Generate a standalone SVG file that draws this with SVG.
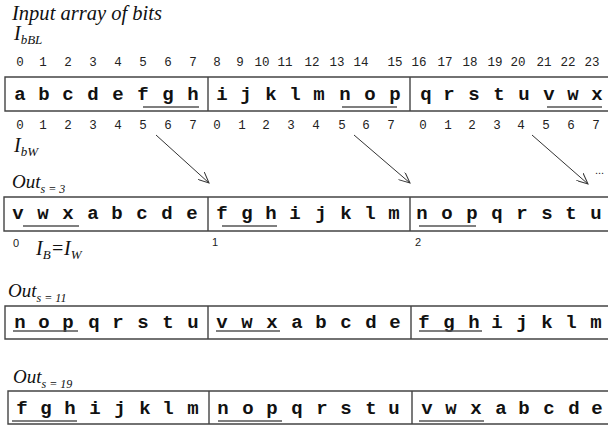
<svg xmlns="http://www.w3.org/2000/svg" width="608" height="429" viewBox="0 0 608 429">
<style>
.lbl{font-family:"Liberation Serif","Times New Roman",serif;font-style:italic;fill:#111}
.ch{font-family:"Liberation Mono","Courier New",monospace;font-weight:bold;font-size:19px;fill:#111;text-anchor:middle}
.idx{font-family:"Liberation Mono","Courier New",monospace;font-size:12.5px;fill:#222;text-anchor:middle}
.sm{font-family:"Liberation Sans",Arial,sans-serif;font-size:11px;fill:#222}
.box{fill:none;stroke:#444;stroke-width:1.4}
.ul{stroke:#555;stroke-width:1.4}
.arr{stroke:#333;stroke-width:1;fill:none;marker-end:url(#ah)}
</style>
<defs>
<marker id="ah" viewBox="0 0 12 10" refX="11" refY="5" markerWidth="12" markerHeight="10" markerUnits="userSpaceOnUse" orient="auto">
<path d="M0,0 L11,5 L0,10" fill="none" stroke="#333" stroke-width="1"/>
</marker>
</defs>

<g id="title">
<text class="lbl" x="12" y="20" font-size="20" textLength="150" lengthAdjust="spacingAndGlyphs">Input array of bits</text>
<text class="lbl" x="14" y="40" font-size="20">I<tspan font-size="13" dy="4">bBL</tspan></text>
</g>

<g id="input-row">
<g class="idx">
<text x="20" y="66">0</text><text x="43" y="66">1</text><text x="68" y="66">2</text><text x="93" y="66">3</text>
<text x="118" y="66">4</text><text x="143" y="66">5</text><text x="168" y="66">6</text><text x="193" y="66">7</text>
<text x="217" y="66">8</text><text x="240" y="66">9</text><text x="262" y="66">10</text><text x="285" y="66">11</text>
<text x="312" y="66">12</text><text x="337" y="66">13</text><text x="361" y="66">14</text><text x="395" y="66">15</text>
<text x="419" y="66">16</text><text x="445" y="66">17</text><text x="470" y="66">18</text><text x="495" y="66">19</text>
<text x="518" y="66">20</text><text x="544" y="66">21</text><text x="568" y="66">22</text><text x="592" y="66">23</text>
</g>
<path class="box" d="M608,77 H5 V111 H608 M208,77 V111 M410,77 V111"/>
<text class="ch" y="100" x="20 44 68 93 118 143 168 193 222 246 271 295 319 345 370 395 426 449 474 499 524 549 573 597">abcdefghijklmnopqrstuvwx</text>
<line class="ul" x1="143" y1="107" x2="199" y2="107"/>
<line class="ul" x1="342" y1="107" x2="397" y2="107"/>
<line class="ul" x1="547" y1="107" x2="602" y2="107"/>
<g class="idx">
<text x="20" y="129">0</text><text x="43" y="129">1</text><text x="68" y="129">2</text><text x="93" y="129">3</text>
<text x="118" y="129">4</text><text x="143" y="129">5</text><text x="168" y="129">6</text><text x="193" y="129">7</text>
<text x="217" y="129">0</text><text x="242" y="129">1</text><text x="266" y="129">2</text><text x="291" y="129">3</text>
<text x="316" y="129">4</text><text x="342" y="129">5</text><text x="366" y="129">6</text><text x="391" y="129">7</text>
<text x="423" y="129">0</text><text x="448" y="129">1</text><text x="472" y="129">2</text><text x="497" y="129">3</text>
<text x="521" y="129">4</text><text x="546" y="129">5</text><text x="571" y="129">6</text><text x="596" y="129">7</text>
</g>
<text class="lbl" x="14" y="152" font-size="20">I<tspan font-size="13" dy="4">bW</tspan></text>
</g>

<g id="connectors">
<line class="arr" x1="156" y1="135" x2="209" y2="183"/>
<line class="arr" x1="354" y1="135" x2="410" y2="183"/>
<line class="arr" x1="532" y1="135" x2="588" y2="184"/>
<text class="sm" x="595" y="174">...</text>
</g>

<g id="out-s3">
<text class="lbl" x="12" y="188" font-size="19">Out<tspan font-size="12" dy="5">s = 3</tspan></text>
<path class="box" d="M608,197 H4 V231 H608 M208,197 V231 M410,197 V231"/>
<text class="ch" y="219" x="18 43 68 93 117 142 167 192 222 247 271 295 321 346 370 394 422 447 472 497 522 547 571 596">vwxabcdefghijklmnopqrstu</text>
<line class="ul" x1="23" y1="226" x2="79" y2="226"/>
<line class="ul" x1="222" y1="226" x2="277" y2="226"/>
<line class="ul" x1="419" y1="226" x2="476" y2="226"/>
<text class="sm" x="13" y="247" font-size="10">0</text>
<text class="lbl" x="36" y="255" font-size="20">I<tspan font-size="13" dy="4">B</tspan><tspan dy="-4">=I</tspan><tspan font-size="13" dy="4">W</tspan></text>
<text class="sm" x="212" y="246">1</text>
<text class="sm" x="415" y="246">2</text>
</g>

<g id="out-s11">
<text class="lbl" x="8" y="297" font-size="19">Out<tspan font-size="12" dy="5">s = 11</tspan></text>
<path class="box" d="M608,306 H5 V339 H608 M208,306 V339 M411,306 V339"/>
<text class="ch" y="328" x="20 44 68 94 118 143 168 193 222 247 272 297 321 346 371 395 424 449 474 497 522 547 571 596">nopqrstuvwxabcdefghijklm</text>
<line class="ul" x1="13" y1="331" x2="78" y2="331"/>
<line class="ul" x1="216" y1="331" x2="280" y2="331"/>
<line class="ul" x1="419" y1="331" x2="482" y2="331"/>
</g>

<g id="out-s19">
<text class="lbl" x="13" y="383" font-size="19">Out<tspan font-size="12" dy="5">s = 19</tspan></text>
<path class="box" d="M608,391 H8 V424 H608 M209,391 V424 M412,391 V424"/>
<text class="ch" y="414" x="22 46 70 95 120 145 168 193 223 248 272 297 322 346 371 394 427 451 476 501 524 549 574 597">fghijklmnopqrstuvwxabcde</text>
<line class="ul" x1="12" y1="421" x2="77" y2="421"/>
<line class="ul" x1="218" y1="421" x2="282" y2="421"/>
<line class="ul" x1="419" y1="421" x2="484" y2="421"/>
</g>
</svg>
